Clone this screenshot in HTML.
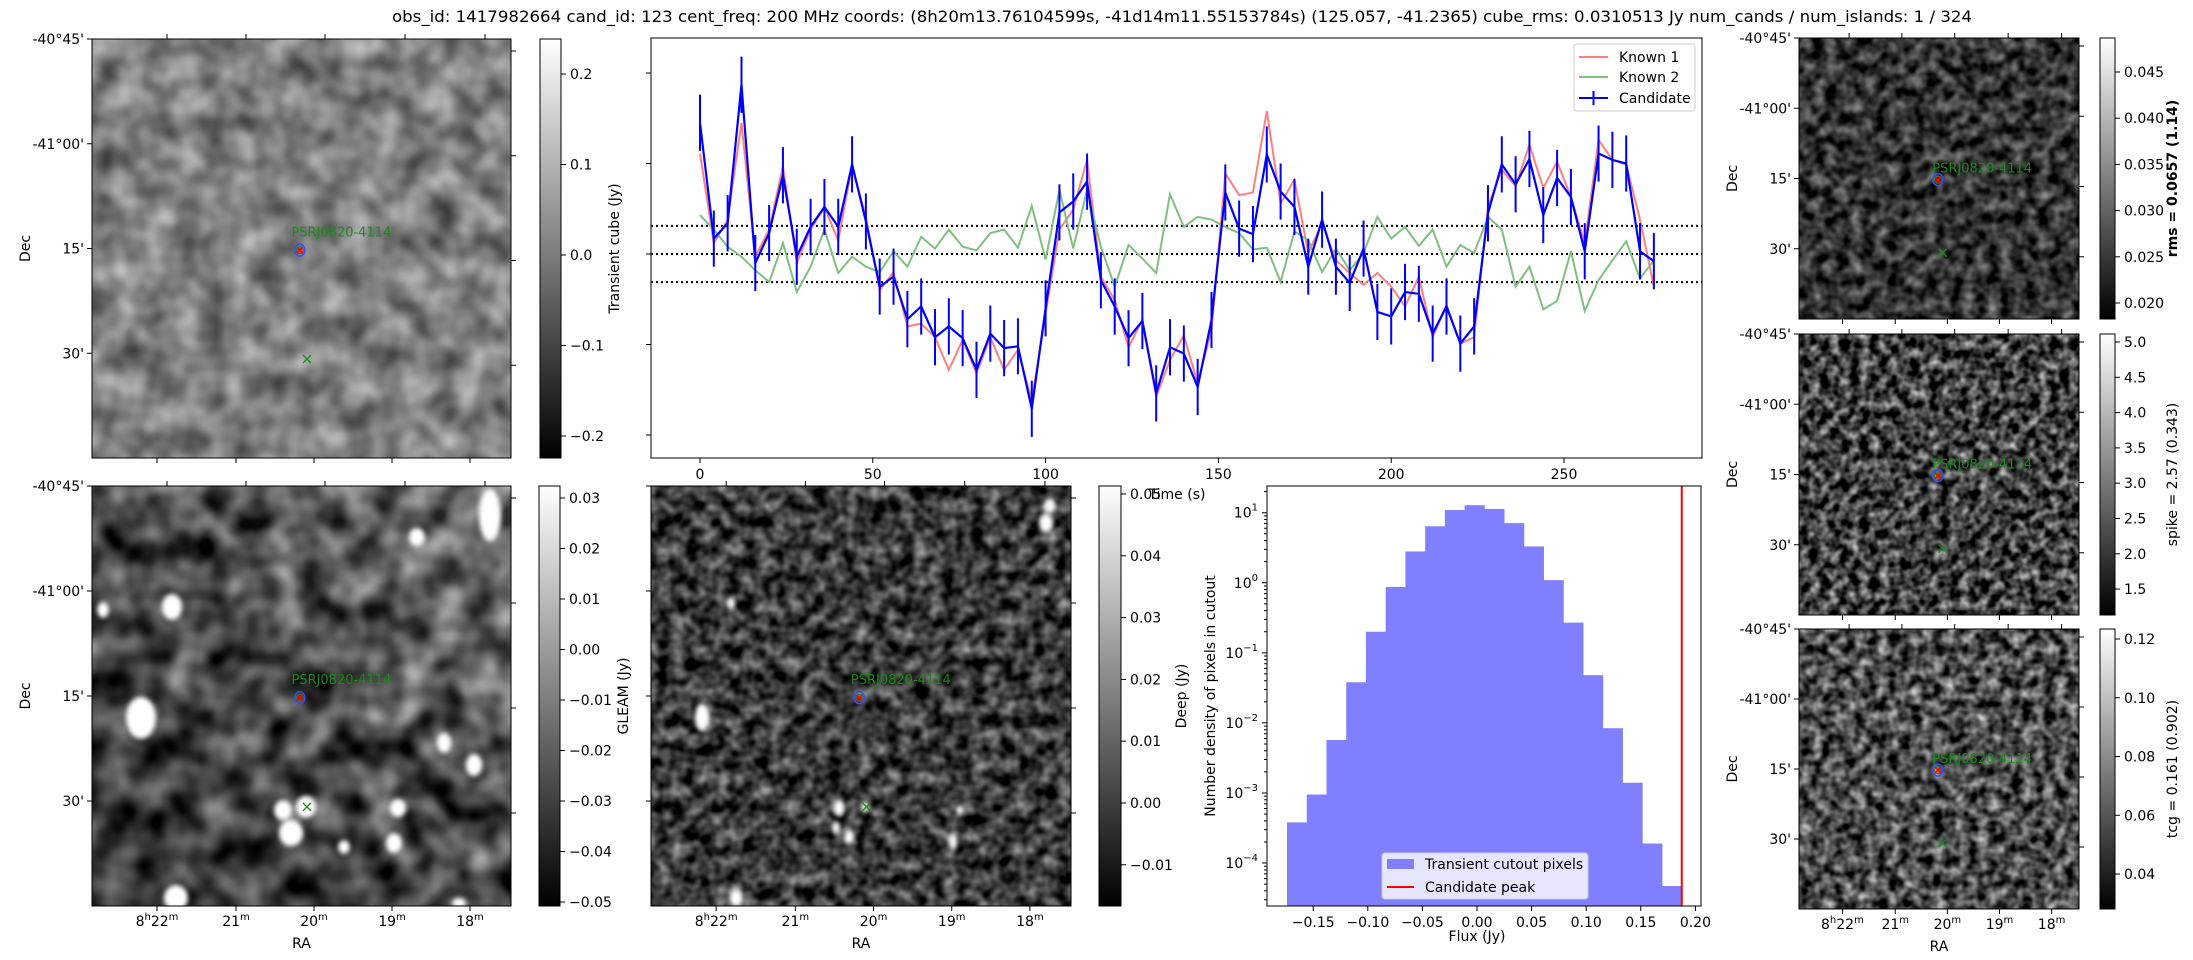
<!DOCTYPE html>
<html><head><meta charset="utf-8">
<style>
html,body{margin:0;padding:0;background:#fff;}
svg{display:block;font-family:"DejaVu Sans","Liberation Sans",sans-serif;}
text{fill:#000;}
filter{color-interpolation-filters:sRGB;}
</style></head>
<body>
<svg id="fig" xmlns="http://www.w3.org/2000/svg" width="2193" height="960" viewBox="0 0 2193 960">
<defs>
  <linearGradient id="cbgrad" x1="0" y1="1" x2="0" y2="0"><stop offset="0" stop-color="#000"/><stop offset="1" stop-color="#fff"/></linearGradient>
  <filter id="fTL" x="0" y="0" width="1" height="1" color-interpolation-filters="sRGB"><feTurbulence type="fractalNoise" baseFrequency="0.035" numOctaves="2" seed="3"/><feColorMatrix type="matrix" values="0.7 0 0 0 0.15  0.7 0 0 0 0.15  0.7 0 0 0 0.15  0 0 0 0 1"/></filter>
  <filter id="fBL" x="0" y="0" width="1" height="1" color-interpolation-filters="sRGB"><feTurbulence type="fractalNoise" baseFrequency="0.03" numOctaves="2" seed="7"/><feColorMatrix type="matrix" values="1.3 0 0 0 -0.3  1.3 0 0 0 -0.3  1.3 0 0 0 -0.3  0 0 0 0 1"/></filter>
  <filter id="fBM" x="0" y="0" width="1" height="1" color-interpolation-filters="sRGB"><feTurbulence type="fractalNoise" baseFrequency="0.07" numOctaves="2" seed="11"/><feColorMatrix type="matrix" values="1.0 0 0 0 -0.27  1.0 0 0 0 -0.27  1.0 0 0 0 -0.27  0 0 0 0 1"/></filter>
  <filter id="fR1" x="0" y="0" width="1" height="1" color-interpolation-filters="sRGB"><feTurbulence type="fractalNoise" baseFrequency="0.08" numOctaves="2" seed="5"/><feColorMatrix type="matrix" values="0.9 0 0 0 -0.25  0.9 0 0 0 -0.25  0.9 0 0 0 -0.25  0 0 0 0 1"/></filter>
  <filter id="fR2" x="0" y="0" width="1" height="1" color-interpolation-filters="sRGB"><feTurbulence type="fractalNoise" baseFrequency="0.1" numOctaves="2" seed="9"/><feColorMatrix type="matrix" values="1.4 0 0 0 -0.45  1.4 0 0 0 -0.45  1.4 0 0 0 -0.45  0 0 0 0 1"/></filter>
  <filter id="fR3" x="0" y="0" width="1" height="1" color-interpolation-filters="sRGB"><feTurbulence type="fractalNoise" baseFrequency="0.09" numOctaves="2" seed="13"/><feColorMatrix type="matrix" values="1.3 0 0 0 -0.35  1.3 0 0 0 -0.35  1.3 0 0 0 -0.35  0 0 0 0 1"/></filter>
  <filter id="blur3"><feGaussianBlur stdDeviation="2.5"/></filter>
  <linearGradient id="blShade" x1="0" y1="1" x2="1" y2="0"><stop offset="0" stop-color="#000" stop-opacity="0.45"/><stop offset="0.55" stop-color="#000" stop-opacity="0.15"/><stop offset="1" stop-color="#fff" stop-opacity="0.2"/></linearGradient>
</defs>
<text x="1182" y="22" font-size="16" text-anchor="middle" textLength="1580" lengthAdjust="spacingAndGlyphs">obs_id: 1417982664 cand_id: 123 cent_freq: 200 MHz coords: (8h20m13.76104599s, -41d14m11.55153784s) (125.057, -41.2365) cube_rms: 0.0310513 Jy num_cands / num_islands: 1 / 324</text>
<g id="layer"></g>
</svg>
<script>
// ---------- light curve data ----------
const lcTimes = [0,4,8,12,16,20,24,28,32,36,40,44,48,52,56,60,64,68,72,76,80,84,88,92,96,100,104,108,112,116,120,124,128,132,136,140,144,148,152,156,160,164,168,172,176,180,184,188,192,196,200,204,208,212,216,220,224,228,232,236,240,244,248,252,256,260,264,268,272,276];
const candidateFlux = [0.145,0.017,0.034,0.187,-0.010,0.023,0.087,-0.003,0.030,0.052,0.030,0.099,0.036,-0.036,-0.025,-0.072,-0.058,-0.092,-0.080,-0.093,-0.128,-0.088,-0.104,-0.102,-0.171,-0.060,0.046,0.058,0.080,-0.029,-0.058,-0.093,-0.074,-0.154,-0.103,-0.110,-0.147,-0.073,0.068,0.028,0.022,0.110,0.069,0.052,-0.014,0.038,-0.014,-0.032,0.006,-0.064,-0.069,-0.042,-0.044,-0.088,-0.058,-0.099,-0.080,0.045,0.099,0.077,0.105,0.043,0.084,0.063,0.003,0.111,0.104,0.100,0.003,-0.008];
const known1Flux = [0.111,0.012,0.038,0.145,-0.003,0.027,0.097,-0.010,0.027,0.052,0.015,0.097,0.041,-0.040,-0.020,-0.080,-0.077,-0.092,-0.128,-0.095,-0.132,-0.092,-0.128,-0.106,-0.162,-0.066,0.027,0.049,0.104,-0.025,-0.051,-0.103,-0.073,-0.158,-0.117,-0.090,-0.143,-0.084,0.089,0.065,0.068,0.158,0.056,0.082,0.001,0.034,-0.007,-0.021,-0.034,-0.021,-0.036,-0.058,-0.025,-0.092,-0.056,-0.099,-0.092,0.052,0.093,0.075,0.121,0.073,0.102,0.063,0.012,0.126,0.104,0.099,0.038,-0.036];
const known2Flux = [0.043,0.027,0.008,-0.003,-0.018,-0.031,0.012,-0.042,-0.014,0.027,-0.021,-0.003,-0.014,-0.020,0.003,-0.014,0.019,0.006,0.027,0.008,0.004,0.023,0.027,0.007,0.053,-0.006,0.071,0.006,0.071,0.008,-0.036,0.010,-0.005,-0.021,0.066,0.030,0.041,0.038,0.030,0.023,0.005,0.007,-0.031,0.025,0.015,-0.020,0.006,-0.018,0.001,0.041,0.017,0.030,0.009,0.027,-0.014,0.010,0.001,0.041,0.027,-0.036,-0.014,-0.061,-0.052,0.003,-0.063,-0.029,-0.007,0.014,-0.027,-0.007];
const cubeRms = 0.0310513;
const lcXTicks = [0,50,100,150,200,250];
const lcYTicks = [0.2,0.1,0.0,-0.1,-0.2];
// ---------- histogram data ----------
const histEdgeMin = -0.174, histEdgeMax = 0.1875;
const histDensity = [3.8e-4,9.5e-4,5.7e-3,0.038,0.20,0.87,2.8,6.4,10.9,12.8,11.3,7.1,3.3,1.09,0.27,0.048,0.0084,0.0014,1.9e-4,4.7e-5];
const candidatePeak = 0.1875;
const histXTicks = [-0.15,-0.10,-0.05,0.00,0.05,0.10,0.15,0.20];
const histYExp = [1,0,-1,-2,-3,-4];

const NS="http://www.w3.org/2000/svg";
const L=document.getElementById('layer');
function mk(tag,attrs,parent){const e=document.createElementNS(NS,tag);for(const k in attrs)e.setAttribute(k,attrs[k]);(parent||L).appendChild(e);return e;}
function txt(x,y,s,attrs,parent){const e=mk('text',Object.assign({x:x,y:y,'font-size':14},attrs||{}),parent);e.textContent=s;return e;}

// ---------- image panels ----------
function panel(name,x,y,w,h,filt,opts){
  const g=mk('g',{});
  
  
  mk('rect',{x:x,y:y,width:w,height:h,fill:'#777',filter:'url(#'+filt+')'},g);
  if(opts.shade) mk('rect',{x:x,y:y,width:w,height:h,fill:'url(#blShade)'},g);
  const bg=mk('g',{filter:'url(#blur3)'},g);
  (opts.blobs||[]).forEach(b=>{mk('ellipse',{cx:b[0],cy:b[1],rx:b[2],ry:b[3],fill:'#fff'},bg);});
  const s=w/419;
  const cx=x+0.496*w, cy=y+0.504*h;
  mk('ellipse',{cx:cx,cy:cy,rx:5,ry:6,fill:'none',stroke:'#3050ff','stroke-width':1.5},g);
  mk('circle',{cx:cx,cy:cy,r:3.5,fill:'none',stroke:'#2a8a2a','stroke-width':1.2},g);
  mk('path',{d:`M${cx-3},${cy-3}L${cx+3},${cy+3}M${cx-3},${cy+3}L${cx+3},${cy-3}`,stroke:'red','stroke-width':1.6},g);
  const gx=x+0.513*w, gy=y+0.764*h;
  mk('path',{d:`M${gx-4},${gy-4}L${gx+4},${gy+4}M${gx-4},${gy+4}L${gx+4},${gy-4}`,stroke:'#1a8a1a','stroke-width':1.3},g);
  const lab=txt(x+0.476*w,y+0.46*h+5,'PSRJ0820-4114',{'font-size':13},g);
  lab.style.fill='#1a8a1a';
  mk('rect',{x:x,y:y,width:w,height:h,fill:'none',stroke:'#000','stroke-width':1},g);
  const dec=[0,0.25,0.5,0.75], decR=[0.0286,0.2786,0.5286,0.7786];
  const raB=[65,144,222,300,378], raT=[75,154,233,313,393];
  const decLab=['-40°45\'','-41°00\'','15\'','30\''];
  let d='';
  dec.forEach((f,i)=>{const yy=y+f*h;d+=`M${x},${yy}h-5`;if(opts.decLabels)txt(x-8,yy+5,decLab[i],{'text-anchor':'end'},g);});
  decR.forEach(f=>{const yy=y+f*h;d+=`M${x+w},${yy}h5`;});
  raB.forEach(o=>{d+=`M${x+o*s},${y+h}v5`;});
  raT.forEach(o=>{d+=`M${x+o*s},${y}v-5`;});
  mk('path',{d:d,stroke:'#000','stroke-width':1},g);
  if(opts.decLabels){const t=txt(0,0,'Dec',{transform:`translate(${x-62},${y+h/2}) rotate(-90)`,'text-anchor':'middle'},g);}
  if(opts.raLabels){
    const ras=[['8','22'],['21'],['20'],['19'],['18']];
    raB.forEach((o,i)=>{const t=mk('text',{x:x+o*s,y:y+h+20,'font-size':14,'text-anchor':'middle'},g);
      const r=ras[i];
      if(r.length===2){t.innerHTML=`8<tspan font-size="10" dy="-6">h</tspan><tspan dy="6">22</tspan><tspan font-size="10" dy="-6">m</tspan>`;}
      else{t.innerHTML=`${r[0]}<tspan font-size="10" dy="-6">m</tspan>`;}
    });
    const t=txt(x+w/2,y+h+42,'RA',{'text-anchor':'middle'},g);
    
  }
}
function colorbar(name,x,y0,y1,w,v0,py0,pxPerUnit,ticks,labels,title,tx,bold){
  const g=mk('g',{});
  
  
  mk('rect',{x:x,y:y0,width:w,height:y1-y0,fill:'url(#cbgrad)',stroke:'#000','stroke-width':1},g);
  ticks.forEach((v,i)=>{const yy=py0+(v0-v)*pxPerUnit;mk('path',{d:`M${x+w},${yy}h5`,stroke:'#000'},g);txt(x+w+9,yy+5,labels[i],{},g);});
  txt(0,0,title,{transform:`translate(${tx},${(y0+y1)/2}) rotate(-90)`,'text-anchor':'middle','font-weight':bold?'bold':'normal'},g);
}
panel('transient-cutout-image',92,39,419,419,'fTL',{decLabels:true});
colorbar('transient-colorbar',540,39,458,21,0.2,74,905,[0.2,0.1,0.0,-0.1,-0.2],['0.2','0.1','0.0','\u22120.1','\u22120.2'],'Transient cube (Jy)',619);
panel('gleam-cutout-image',92,486,419,420,'fBL',{decLabels:true,raLabels:true,shade:true,blobs:[[141,718,15,21],[172,607,10,13],[490,515,11,26],[176,898,12,13],[291,833,12,13],[283,810,9,10],[306,807,10,11],[398,808,8,9],[394,843,8,10],[444,743,7,10],[474,765,8,11],[344,847,6,7],[459,903,7,5],[103,610,6,8],[417,537,8,9]]});
colorbar('gleam-colorbar',539,486,906,21,0.03,498,5050,[0.03,0.02,0.01,0.00,-0.01,-0.02,-0.03,-0.04,-0.05],['0.03','0.02','0.01','0.00','\u22120.01','\u22120.02','\u22120.03','\u22120.04','\u22120.05'],'GLEAM (Jy)',628);
panel('deep-cutout-image',651,486,420,420,'fBM',{raLabels:true,blobs:[[702,717,7,14],[1050,506,5,7],[1046,523,7,9],[731,603,4,6],[839,808,5,8],[849,837,5,7],[836,828,4,6],[865,807,4,6],[736,898,7,9],[953,842,4,7],[960,810,4,5]]});
colorbar('deep-colorbar',1099,486,906,22,0.05,494,6180,[0.05,0.04,0.03,0.02,0.01,0.00,-0.01],['0.05','0.04','0.03','0.02','0.01','0.00','\u22120.01'],'Deep (Jy)',1186);
panel('rms-cutout-image',1799,38,280,281,'fR1',{decLabels:true});
colorbar('rms-colorbar',2100,38,319,15,0.045,72,9240,[0.045,0.040,0.035,0.030,0.025,0.020],['0.045','0.040','0.035','0.030','0.025','0.020'],'rms = 0.0657 (1.14)',2177,true);
panel('spike-cutout-image',1799,334,280,281,'fR2',{decLabels:true});
colorbar('spike-colorbar',2100,334,615,15,5.0,342,70.6,[5.0,4.5,4.0,3.5,3.0,2.5,2.0,1.5],['5.0','4.5','4.0','3.5','3.0','2.5','2.0','1.5'],'spike = 2.57 (0.343)',2177);
panel('tcg-cutout-image',1799,629,280,280,'fR3',{decLabels:true,raLabels:true});
colorbar('tcg-colorbar',2100,629,909,15,0.12,639,2937.5,[0.12,0.10,0.08,0.06,0.04],['0.12','0.10','0.08','0.06','0.04'],'tcg = 0.161 (0.902)',2177);

// ---------- light curve ----------
(function(){
  const X0=651,X1=1702,Y0=38,Y1=458;
  const px=t=>700+t*3.456, py=v=>254-v*905;
  const g=mk('g',{});
  
  
  [cubeRms,0,-cubeRms].forEach(v=>{const l=mk('line',{x1:X0,x2:X1,y1:py(v),y2:py(v),stroke:'#000','stroke-width':2,'stroke-dasharray':'2,3'},g);});
  function series(arr,color,width,name){const p=mk('polyline',{points:arr.map((v,i)=>px(lcTimes[i])+','+py(v)).join(' '),fill:'none',stroke:color,'stroke-width':width,'stroke-linejoin':'miter'},g);}
  series(known1Flux,'#ff7f7f',2,'known-1-line');
  series(known2Flux,'#7fbf7f',2,'known-2-line');
  let d='';
  candidateFlux.forEach((v,i)=>{d+=`M${px(lcTimes[i])},${py(v+cubeRms)}V${py(v-cubeRms)}`;});
  const eb=mk('path',{d:d,stroke:'#0000ff','stroke-width':2},g);
  
  series(candidateFlux,'#0000ff',2.2,'candidate-line');
  mk('rect',{x:X0,y:Y0,width:X1-X0,height:Y1-Y0,fill:'none',stroke:'#000'},g);
  let td='';
  lcXTicks.forEach(t=>{td+=`M${px(t)},${Y1}v5`;txt(px(t),Y1+21,String(t),{'text-anchor':'middle'},g);});
  lcYTicks.forEach(v=>{td+=`M${X0},${py(v)}h-5`;});
  mk('path',{d:td,stroke:'#000'},g);
  const xt=txt(1177,499,'Time (s)',{'text-anchor':'middle'},g);
  
  const lg=mk('g',{},g);
  
  
  mk('rect',{x:1574,y:44,width:121,height:67,rx:3,fill:'#fff','fill-opacity':0.8,stroke:'#ccc'},lg);
  mk('line',{x1:1579,x2:1608,y1:57,y2:57,stroke:'#ff7f7f','stroke-width':2},lg);
  txt(1619,62,'Known 1',{},lg);
  mk('line',{x1:1579,x2:1608,y1:77,y2:77,stroke:'#7fbf7f','stroke-width':2},lg);
  txt(1619,82,'Known 2',{},lg);
  mk('path',{d:'M1579,98H1608M1593.5,91V105',stroke:'#0000ff','stroke-width':2},lg);
  txt(1619,103,'Candidate',{},lg);
})();

// ---------- histogram ----------
(function(){
  const X0=1267,X1=1701,Y0=486,Y1=906;
  const hx=f=>1477+f*1092, hy=d=>512.7-(Math.log10(d)-1)*70.07;
  const g=mk('g',{});
  
  
  const bw=(histEdgeMax-histEdgeMin)/histDensity.length;
  histDensity.forEach((d,i)=>{const a=histEdgeMin+i*bw;const yy=hy(d);const r=mk('rect',{x:hx(a),y:yy,width:hx(a+bw)-hx(a)+0.4,height:Y1-yy,fill:'#8080ff'},g);});
  const pk=mk('line',{x1:hx(candidatePeak),x2:hx(candidatePeak),y1:Y0,y2:Y1,stroke:'red','stroke-width':2},g);
  
  mk('rect',{x:X0,y:Y0,width:X1-X0,height:Y1-Y0,fill:'none',stroke:'#000'},g);
  let td='';
  histXTicks.forEach(f=>{td+=`M${hx(f)},${Y1}v5`;txt(hx(f),Y1+21,(f<0?'\u2212':'')+Math.abs(f).toFixed(2),{'text-anchor':'middle'},g);});
  histYExp.forEach(e=>{const yy=hy(Math.pow(10,e));td+=`M${X0},${yy}h-5`;const t=mk('text',{x:X0-9,y:yy+5,'font-size':14,'text-anchor':'end'},g);t.innerHTML=`10<tspan font-size="10" dy="-7">${e<0?'\u2212'+(-e):e}</tspan>`;
    for(let m=2;m<10;m++){const my=hy(m*Math.pow(10,e-1));if(my>Y0&&my<Y1)td+=`M${X0},${my}h-3`;}
    for(let m=2;m<10;m++){const my=hy(m*Math.pow(10,e));if(e===1&&my>Y0)td+=`M${X0},${my}h-3`;}
  });
  mk('path',{d:td,stroke:'#000'},g);
  txt(1477,941,'Flux (Jy)',{'text-anchor':'middle'},g);
  txt(0,0,'Number density of pixels in cutout',{transform:'translate(1215,696) rotate(-90)','text-anchor':'middle'},g);
  const lg=mk('g',{},g);
  
  
  mk('rect',{x:1382,y:853,width:206,height:46,rx:3,fill:'#fff','fill-opacity':0.8,stroke:'#ccc'},lg);
  mk('rect',{x:1387,y:859,width:27,height:10,fill:'#8080ff'},lg);
  txt(1425,869,'Transient cutout pixels',{},lg);
  mk('line',{x1:1387,x2:1414,y1:887,y2:887,stroke:'red','stroke-width':2},lg);
  txt(1425,892,'Candidate peak',{},lg);
})();
</script>
</body></html>
